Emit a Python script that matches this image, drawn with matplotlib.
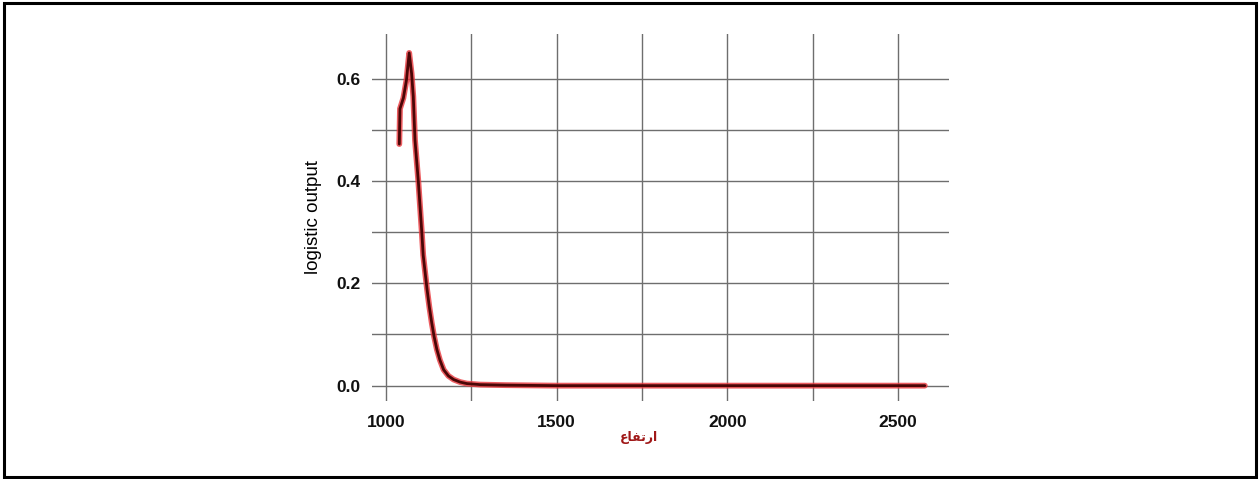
import matplotlib
matplotlib.use("Agg")
import matplotlib.pyplot as plt
from matplotlib.ticker import MultipleLocator
from matplotlib.patches import Rectangle

# Response curve values
elevation = [1039, 1041, 1051, 1060, 1068, 1075, 1080, 1085, 1095, 1105, 1109, 1120,
             1127, 1134, 1141, 1149, 1158, 1169, 1183, 1198, 1217, 1237, 1276, 1350,
             1500, 1750, 2000, 2250, 2579]
logistic = [0.472, 0.541, 0.562, 0.597, 0.650, 0.610, 0.565, 0.480, 0.397, 0.299, 0.255, 0.190,
            0.154, 0.123, 0.096, 0.071, 0.050, 0.031, 0.019, 0.012, 0.007, 0.004, 0.002, 0.001,
            0.0, 0.0, 0.0, 0.0, 0.0]

x_ticks = [1000, 1500, 2000, 2500]
y_ticks = [0.0, 0.2, 0.4, 0.6]
y_label = "logistic output"
# "ارتفاع" written with Arabic presentation forms in visual order (matplotlib has no shaping)
x_label = "\uFEC9\uFE8E\uFED4\uFE97\uFEAD\uFE8D"

fig = plt.figure(figsize=(12.6, 4.79), dpi=100)
ax = fig.add_axes([372 / 1260, 1 - 401 / 479, (949 - 372) / 1260, (401 - 34) / 479])

ax.set_xlim(959, 2650)
ax.set_ylim(-0.030, 0.687)
ax.xaxis.set_minor_locator(MultipleLocator(250))
ax.yaxis.set_minor_locator(MultipleLocator(0.1))
ax.set_xticks(x_ticks)
ax.set_yticks(y_ticks)
ax.set_yticklabels([f"{v:.1f}" for v in y_ticks])
ax.set_xticklabels([str(v) for v in x_ticks])

ax.grid(True, which="both", color="#6e6e6e", linewidth=1.0)
ax.set_axisbelow(True)
for s in ax.spines.values():
    s.set_visible(False)
ax.tick_params(which="both", length=0)
ax.tick_params(axis="y", pad=8)
ax.tick_params(axis="x", pad=10)
for lab in ax.get_xticklabels() + ax.get_yticklabels():
    lab.set_fontfamily("Liberation Sans")
    lab.set_fontweight("bold")
    lab.set_fontsize(12.5)
    lab.set_color("#111111")

ax.plot(elevation, logistic, color="#e8353a", linewidth=4.2, alpha=0.8,
        solid_capstyle="round", solid_joinstyle="round", zorder=3)
ax.plot(elevation, logistic, color="#4a0606", linewidth=2.0,
        solid_capstyle="round", solid_joinstyle="round", zorder=4)

ax.set_ylabel(y_label, fontfamily="Liberation Sans", fontsize=13.5, color="#000000")
ax.yaxis.set_label_coords((322 - 372) / (949 - 372), 0.5)

fig.text(639 / 1260, 1 - 437 / 479, x_label, family=["DejaVu Sans"], fontweight="bold",
         fontsize=9, color="#a01818", ha="center", va="center")

fig.patches.append(Rectangle((4 / 1260, 2 / 479), 1252 / 1260, 474 / 479,
                             transform=fig.transFigure, fill=False,
                             edgecolor="black", linewidth=2.2))

fig.savefig("out.png", dpi=100)
